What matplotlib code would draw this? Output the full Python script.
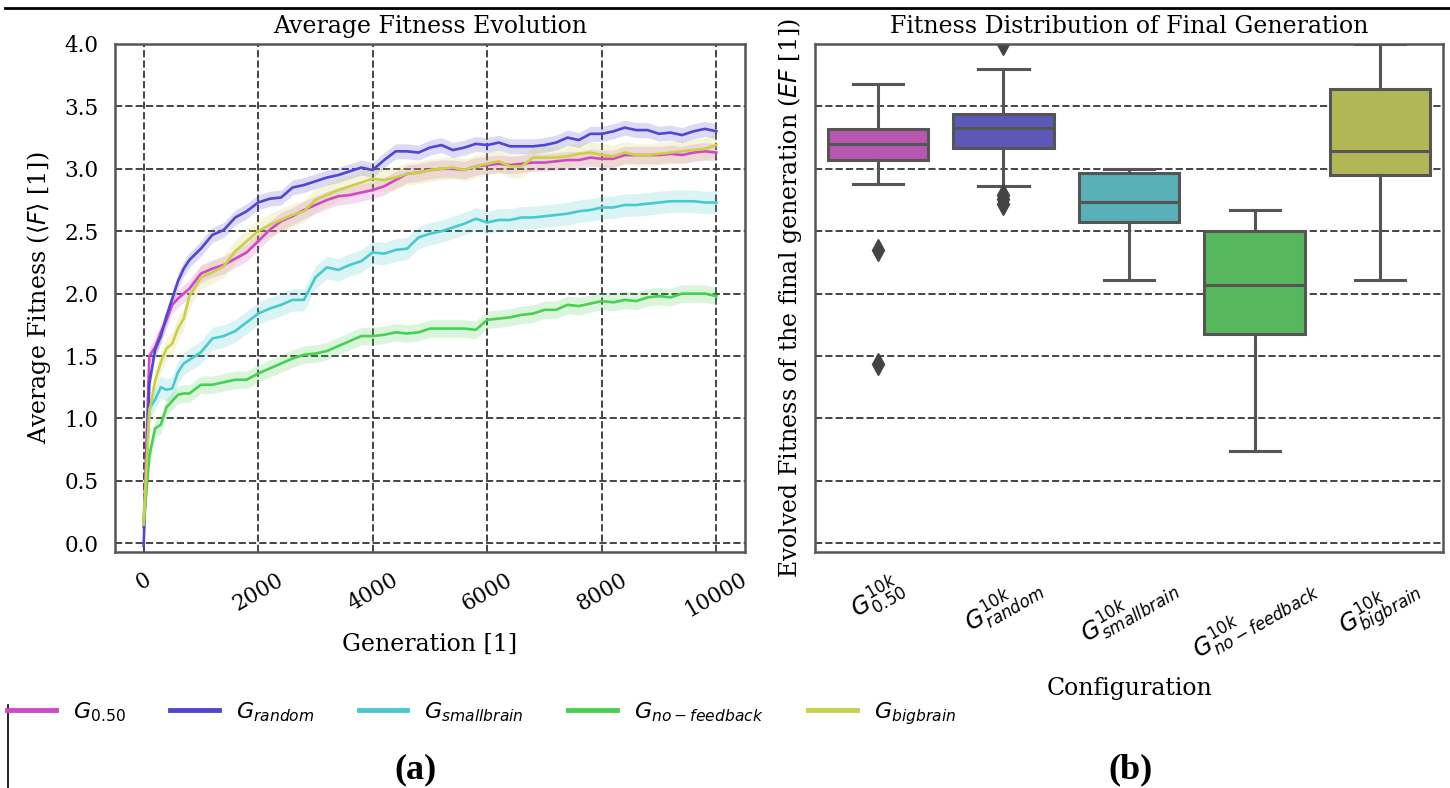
import colorsys
import numpy as np
import matplotlib
matplotlib.use('Agg')
import matplotlib.pyplot as plt
from matplotlib.lines import Line2D

# --- data ---
gens = [0, 100, 200, 300, 400, 500, 600, 700, 800, 1000, 1200, 1400, 1600, 1800,
        2000, 2200, 2400, 2600, 2800, 3000, 3200, 3400, 3600, 3800, 4000, 4200,
        4400, 4600, 4800, 5000, 5200, 5400, 5600, 5800, 6000, 6200, 6400, 6600,
        6800, 7000, 7200, 7400, 7600, 7800, 8000, 8200, 8400, 8600, 8800, 9000,
        9200, 9400, 9600, 9800, 10000]

fit_050 = [0.13, 1.50, 1.57, 1.69, 1.79, 1.91, 1.96, 2.00, 2.04, 2.16, 2.20, 2.23,
           2.28, 2.33, 2.42, 2.51, 2.58, 2.62, 2.67, 2.71, 2.75, 2.78, 2.79, 2.81,
           2.83, 2.86, 2.91, 2.96, 2.97, 2.99, 3.00, 3.00, 2.99, 3.02, 3.03, 3.04,
           3.03, 3.04, 3.05, 3.05, 3.06, 3.07, 3.07, 3.09, 3.08, 3.08, 3.11, 3.11,
           3.11, 3.11, 3.12, 3.11, 3.13, 3.14, 3.13]
fit_random = [-0.02, 1.28, 1.55, 1.66, 1.82, 1.96, 2.10, 2.20, 2.27, 2.36, 2.47, 2.51,
              2.61, 2.66, 2.73, 2.76, 2.77, 2.85, 2.87, 2.90, 2.93, 2.95, 2.98, 3.01,
              2.99, 3.07, 3.14, 3.14, 3.13, 3.17, 3.19, 3.15, 3.17, 3.20, 3.19, 3.21,
              3.18, 3.18, 3.18, 3.19, 3.21, 3.25, 3.23, 3.28, 3.28, 3.30, 3.33, 3.31,
              3.31, 3.28, 3.29, 3.27, 3.30, 3.32, 3.30]
fit_smallbrain = [0.15, 1.08, 1.15, 1.25, 1.23, 1.24, 1.37, 1.44, 1.47, 1.53, 1.64, 1.66,
                  1.70, 1.77, 1.84, 1.88, 1.91, 1.95, 1.95, 2.13, 2.21, 2.19, 2.23, 2.26,
                  2.33, 2.32, 2.35, 2.36, 2.45, 2.48, 2.50, 2.53, 2.56, 2.60, 2.57, 2.59,
                  2.59, 2.61, 2.61, 2.62, 2.63, 2.64, 2.66, 2.67, 2.69, 2.69, 2.71, 2.71,
                  2.72, 2.73, 2.74, 2.74, 2.74, 2.73, 2.73]
fit_nofeedback = [0.15, 0.70, 0.92, 0.95, 1.09, 1.14, 1.19, 1.20, 1.20, 1.27, 1.27, 1.29,
                  1.31, 1.31, 1.36, 1.40, 1.44, 1.48, 1.51, 1.52, 1.54, 1.58, 1.62, 1.66,
                  1.66, 1.67, 1.69, 1.68, 1.69, 1.72, 1.72, 1.72, 1.72, 1.71, 1.79, 1.80,
                  1.81, 1.83, 1.84, 1.87, 1.87, 1.91, 1.90, 1.92, 1.94, 1.93, 1.95, 1.94,
                  1.97, 1.98, 1.97, 2.00, 2.00, 2.00, 1.98]
fit_bigbrain = [0.15, 1.05, 1.30, 1.45, 1.56, 1.60, 1.72, 1.80, 1.98, 2.13, 2.17, 2.22,
                2.34, 2.42, 2.50, 2.55, 2.59, 2.63, 2.66, 2.75, 2.79, 2.83, 2.86, 2.89,
                2.92, 2.91, 2.93, 2.96, 2.97, 2.99, 3.00, 3.01, 2.99, 3.02, 3.04, 3.06,
                3.02, 3.02, 3.09, 3.09, 3.09, 3.10, 3.12, 3.13, 3.11, 3.10, 3.13, 3.11,
                3.11, 3.12, 3.13, 3.14, 3.15, 3.16, 3.19]
# half width of the shaded band around each curve
band = [0.07, 0.06, 0.09, 0.07, 0.09]

series_labels = [r'$G_{0.50}$', r'$G_{random}$', r'$G_{smallbrain}$',
                 r'$G_{no-feedback}$', r'$G_{bigbrain}$']

box_labels = [r'$G^{10k}_{0.50}$', r'$G^{10k}_{random}$', r'$G^{10k}_{smallbrain}$',
              r'$G^{10k}_{no-feedback}$', r'$G^{10k}_{bigbrain}$']
box_med = [3.20, 3.33, 2.73, 2.07, 3.14]
box_q1 = [3.07, 3.17, 2.57, 1.68, 2.95]
box_q3 = [3.32, 3.44, 2.97, 2.50, 3.64]
box_lo = [2.88, 2.86, 2.11, 0.74, 2.11]
box_hi = [3.68, 3.80, 3.00, 2.67, 4.00]
box_fliers = [[2.35, 1.44], [4.00, 2.79, 2.76, 2.72], [], [], []]

hues = [303.6, 243.6, 183.6, 123.6, 63.6]
line_colors = [colorsys.hls_to_rgb(h / 360, 0.55, 0.6) for h in hues]
box_colors = [colorsys.hls_to_rgb(h / 360, 0.53, 0.4) for h in hues]

plt.rcParams['font.family'] = 'DejaVu Serif'
plt.rcParams['mathtext.fontset'] = 'dejavusans'

grid_kw = dict(color='#444444', linestyle='--', linewidth=1.4)
spine_col = '#555555'

fig = plt.figure(figsize=(14.5, 7.88), dpi=100)
ax1 = fig.add_axes([0.0793, 0.2995, 0.4345, 0.6447])
ax2 = fig.add_axes([0.5621, 0.2995, 0.4331, 0.6447])

# --- (a) average fitness evolution ---
all_fit = [fit_050, fit_random, fit_smallbrain, fit_nofeedback, fit_bigbrain]
g = np.array(gens)
for vals, b, c, lab in zip(all_fit, band, line_colors, series_labels):
    v = np.array(vals)
    ax1.fill_between(g, v - b, v + b, color=c, alpha=0.2, lw=0)
    ax1.plot(g, v, color=c, lw=1.9, label=lab)

ax1.set_xlim(-500, 10500)
ax1.set_ylim(-0.07, 4.0)
ax1.set_xticks([0, 2000, 4000, 6000, 8000, 10000])
ax1.set_yticks(np.arange(0, 4.01, 0.5))
ax1.grid(True, **grid_kw)
ax1.set_axisbelow(True)
ax1.set_title('Average Fitness Evolution', fontsize=17, pad=8)
ax1.set_xlabel('Generation [1]', fontsize=17, labelpad=8)
ax1.set_ylabel(r'Average Fitness ($\langle F\rangle$ [1])', fontsize=17, labelpad=8)
ax1.tick_params(axis='both', length=0, labelsize=15.5, pad=12)
for lbl in ax1.get_xticklabels():
    lbl.set_rotation(30)
    lbl.set_ha('center')

# --- (b) final generation boxplot ---
stats = []
for i in range(len(box_labels)):
    stats.append(dict(med=box_med[i], q1=box_q1[i], q3=box_q3[i],
                      whislo=box_lo[i], whishi=box_hi[i],
                      fliers=box_fliers[i], label=box_labels[i]))
lc = '#555555'
bp = ax2.bxp(stats, positions=range(len(stats)), widths=0.8, patch_artist=True,
             boxprops=dict(edgecolor=lc, linewidth=2.2),
             medianprops=dict(color=lc, linewidth=2.2),
             whiskerprops=dict(color=lc, linewidth=2.2),
             capprops=dict(color=lc, linewidth=2.2),
             flierprops=dict(marker='d', markerfacecolor='#444444',
                             markeredgecolor='#444444', markersize=11))
for patch, c in zip(bp['boxes'], box_colors):
    patch.set_facecolor(c)
for cap in bp['caps']:
    xd = cap.get_xdata()
    mid = (xd[0] + xd[1]) / 2
    cap.set_xdata([mid - 0.2, mid + 0.2])

ax2.set_xlim(-0.5, 4.5)
ax2.set_ylim(-0.07, 4.0)
ax2.set_yticks(np.arange(0, 4.01, 0.5))
ax2.yaxis.grid(True, **grid_kw)
ax2.xaxis.grid(False)
ax2.set_axisbelow(True)
ax2.set_title('Fitness Distribution of Final Generation', fontsize=17, pad=8)
ax2.set_xlabel('Configuration', fontsize=17, labelpad=6)
ax2.set_ylabel(r'Evolved Fitness of the final generation ($EF$ [1])', fontsize=17, labelpad=8)
ax2.tick_params(axis='both', length=0, labelsize=17, pad=12)
ax2.tick_params(axis='y', labelleft=False)
for lbl in ax2.get_xticklabels():
    lbl.set_rotation(30)
    lbl.set_ha('center')

for ax in (ax1, ax2):
    for s in ax.spines.values():
        s.set_color(spine_col)
        s.set_linewidth(1.8)

fig.legend(*ax1.get_legend_handles_labels(), loc='center left',
           bbox_to_anchor=(0.005, 0.095), ncol=5, frameon=False, fontsize=16,
           handlelength=2.2, handletextpad=0.75, columnspacing=2.0,
           borderaxespad=0, borderpad=0)
for h in fig.legends[0].get_lines():
    h.set_linewidth(3.5)

fig.text(416 / 1450, 1 - 770 / 788, '(a)', fontsize=26, fontweight='bold',
         family='Liberation Serif', ha='center', va='center')
fig.text(1130 / 1450, 1 - 770 / 788, '(b)', fontsize=26, fontweight='bold',
         family='Liberation Serif', ha='center', va='center')

# page edges visible in the source crop
fig.add_artist(Line2D([5 / 1450, 1], [1 - 8 / 788] * 2, color='black', lw=2))
fig.add_artist(Line2D([8 / 1450] * 2, [0, 1 - 705 / 788], color='black', lw=1.2))

plt.savefig('out.png', dpi=100)
